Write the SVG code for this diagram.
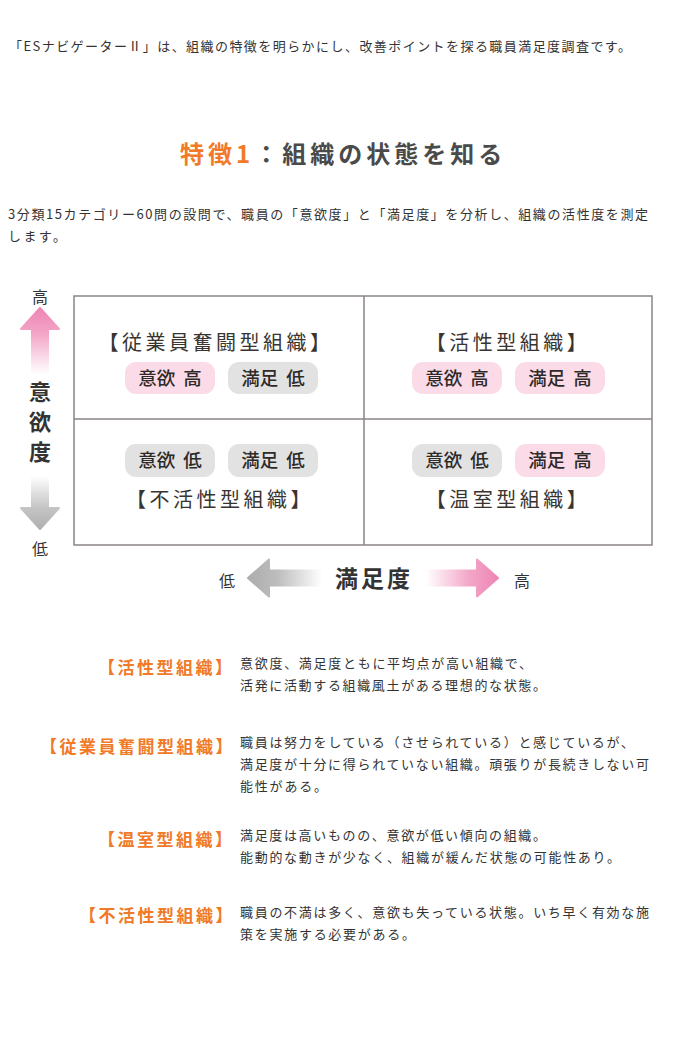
<svg xmlns="http://www.w3.org/2000/svg" width="696" height="1056" viewBox="0 0 696 1056">
<style>
text{font-family:"Noto Sans CJK JP","Noto Sans",sans-serif;}
.body{font-size:13px;fill:#333;}
.ttl{font-size:24px;font-weight:bold;fill:#4a4a4a;letter-spacing:4px;}
.org{fill:#f07a28;}
.cell{font-size:20px;fill:#3a3431;letter-spacing:3.5px;text-anchor:middle;}
.pill{font-size:18.5px;fill:#2e2a28;text-anchor:middle;font-weight:500;}
.pk{fill:#fbdbe8;}
.gy{fill:#e2e2e2;}
.lbl{font-size:17px;font-weight:bold;fill:#f07a28;letter-spacing:2.5px;}
.ax{font-size:16px;fill:#333;text-anchor:middle;}
.axb{font-size:23px;font-weight:bold;fill:#333;text-anchor:middle;}
</style>
<defs>
<linearGradient id="gPinkV" gradientUnits="userSpaceOnUse" x1="0" y1="308" x2="0" y2="374">
<stop offset="0" stop-color="#ee86b4"/><stop offset="0.4" stop-color="#f3a6c8"/><stop offset="1" stop-color="#ffffff"/>
</linearGradient>
<linearGradient id="gGrayV" gradientUnits="userSpaceOnUse" x1="0" y1="476" x2="0" y2="529">
<stop offset="0" stop-color="#ffffff"/><stop offset="0.6" stop-color="#c4c4c4"/><stop offset="1" stop-color="#b0b0b0"/>
</linearGradient>
<linearGradient id="gGrayH" gradientUnits="userSpaceOnUse" x1="248" y1="0" x2="322" y2="0">
<stop offset="0" stop-color="#adadad"/><stop offset="0.4" stop-color="#bdbdbd"/><stop offset="1" stop-color="#ffffff"/>
</linearGradient>
<linearGradient id="gPinkH" gradientUnits="userSpaceOnUse" x1="426" y1="0" x2="498" y2="0">
<stop offset="0" stop-color="#ffffff"/><stop offset="0.6" stop-color="#f3a6c8"/><stop offset="1" stop-color="#ee86b4"/>
</linearGradient>
</defs>
<rect width="696" height="1056" fill="#ffffff"/>

<g id="intro">
<text class="body" x="9" y="51" textLength="622" lengthAdjust="spacing">「ESナビゲーターⅡ」は、組織の特徴を明らかにし、改善ポイントを探る職員満足度調査です。</text>
</g>

<g id="title">
<text class="ttl" x="180" y="163"><tspan class="org">特徴1</tspan>：組織の状態を知る</text>
</g>

<g id="lead">
<text class="body" x="8" y="219" textLength="640" lengthAdjust="spacing">3分類15カテゴリー60問の設問で、職員の「意欲度」と「満足度」を分析し、組織の活性度を測定</text>
<text class="body" x="8" y="241" textLength="58" lengthAdjust="spacing">します。</text>
</g>

<g id="grid" fill="none" stroke="#8b8583" stroke-width="1.5">
<rect x="74" y="296" width="578" height="249"/>
<line x1="364" y1="296" x2="364" y2="545"/>
<line x1="74" y1="419" x2="652" y2="419"/>
</g>

<g id="q-tl">
<text class="cell" x="216" y="350">【従業員奮闘型組織】</text>
<rect class="pk" x="125" y="362" width="90" height="32" rx="11"/>
<rect class="gy" x="228" y="362" width="90" height="32" rx="11"/>
<text class="pill" x="170" y="384.5">意欲 <tspan dx="4">高</tspan></text>
<text class="pill" x="273" y="384.5">満足 <tspan dx="4">低</tspan></text>
</g>

<g id="q-tr">
<text class="cell" x="508" y="350">【活性型組織】</text>
<rect class="pk" x="412" y="362" width="90" height="32" rx="11"/>
<rect class="pk" x="515" y="362" width="90" height="32" rx="11"/>
<text class="pill" x="457" y="384.5">意欲 <tspan dx="4">高</tspan></text>
<text class="pill" x="560" y="384.5">満足 <tspan dx="4">高</tspan></text>
</g>

<g id="q-bl">
<rect class="gy" x="125" y="444" width="90" height="33" rx="11"/>
<rect class="gy" x="228" y="444" width="90" height="33" rx="11"/>
<text class="pill" x="170" y="467">意欲 <tspan dx="4">低</tspan></text>
<text class="pill" x="273" y="467">満足 <tspan dx="4">低</tspan></text>
<text class="cell" x="220" y="507">【不活性型組織】</text>
</g>

<g id="q-br">
<rect class="gy" x="412" y="444" width="90" height="33" rx="11"/>
<rect class="pk" x="515" y="444" width="90" height="33" rx="11"/>
<text class="pill" x="457" y="467">意欲 <tspan dx="4">低</tspan></text>
<text class="pill" x="560" y="467">満足 <tspan dx="4">高</tspan></text>
<text class="cell" x="508" y="507">【温室型組織】</text>
</g>

<g id="axes" stroke-linejoin="round">
<path d="M40,308 L59,329 L48,329 L48,374 L32,374 L32,329 L21,329 Z" fill="url(#gPinkV)" stroke="url(#gPinkV)" stroke-width="2"/>
<path d="M40,529 L59,508 L48,508 L48,476 L32,476 L32,508 L21,508 Z" fill="url(#gGrayV)" stroke="url(#gGrayV)" stroke-width="2"/>
<path d="M248,578 L269,559.5 L269,570.5 L322,570.5 L322,585.5 L269,585.5 L269,596.5 Z" fill="url(#gGrayH)" stroke="url(#gGrayH)" stroke-width="2"/>
<path d="M498,578 L477,559.5 L477,570.5 L426,570.5 L426,585.5 L477,585.5 L477,596.5 Z" fill="url(#gPinkH)" stroke="url(#gPinkH)" stroke-width="2"/>
<text class="ax" x="40" y="303">高</text>
<text x="40" y="381" font-size="22" font-weight="bold" fill="#333" writing-mode="vertical-rl" letter-spacing="8">意欲度</text>
<text class="ax" x="40" y="555">低</text>
<text class="ax" x="227" y="587" font-size="17">低</text>
<text class="axb" x="374" y="587" font-size="24" letter-spacing="3">満足度</text>
<text class="ax" x="522" y="587" font-size="17">高</text>
</g>

<g id="desc-active">
<text class="lbl" x="98" y="674">【活性型組織】</text>
<text class="body" x="240" y="668" textLength="292" lengthAdjust="spacing">意欲度、満足度ともに平均点が高い組織で、</text>
<text class="body" x="240" y="690" textLength="306" lengthAdjust="spacing">活発に活動する組織風土がある理想的な状態。</text>
</g>

<g id="desc-struggle">
<text class="lbl" x="40" y="753">【従業員奮闘型組織】</text>
<text class="body" x="240" y="747" textLength="394" lengthAdjust="spacing">職員は努力をしている（させられている）と感じているが、</text>
<text class="body" x="240" y="769" textLength="409" lengthAdjust="spacing">満足度が十分に得られていない組織。頑張りが長続きしない可</text>
<text class="body" x="240" y="791" textLength="87" lengthAdjust="spacing">能性がある。</text>
</g>

<g id="desc-greenhouse">
<text class="lbl" x="98" y="846">【温室型組織】</text>
<text class="body" x="240" y="840" textLength="306" lengthAdjust="spacing">満足度は高いものの、意欲が低い傾向の組織。</text>
<text class="body" x="240" y="862" textLength="380" lengthAdjust="spacing">能動的な動きが少なく、組織が緩んだ状態の可能性あり。</text>
</g>

<g id="desc-inactive">
<text class="lbl" x="79" y="922">【不活性型組織】</text>
<text class="body" x="240" y="917" textLength="409" lengthAdjust="spacing">職員の不満は多く、意欲も失っている状態。いち早く有効な施</text>
<text class="body" x="240" y="939" textLength="175" lengthAdjust="spacing">策を実施する必要がある。</text>
</g>
</svg>
